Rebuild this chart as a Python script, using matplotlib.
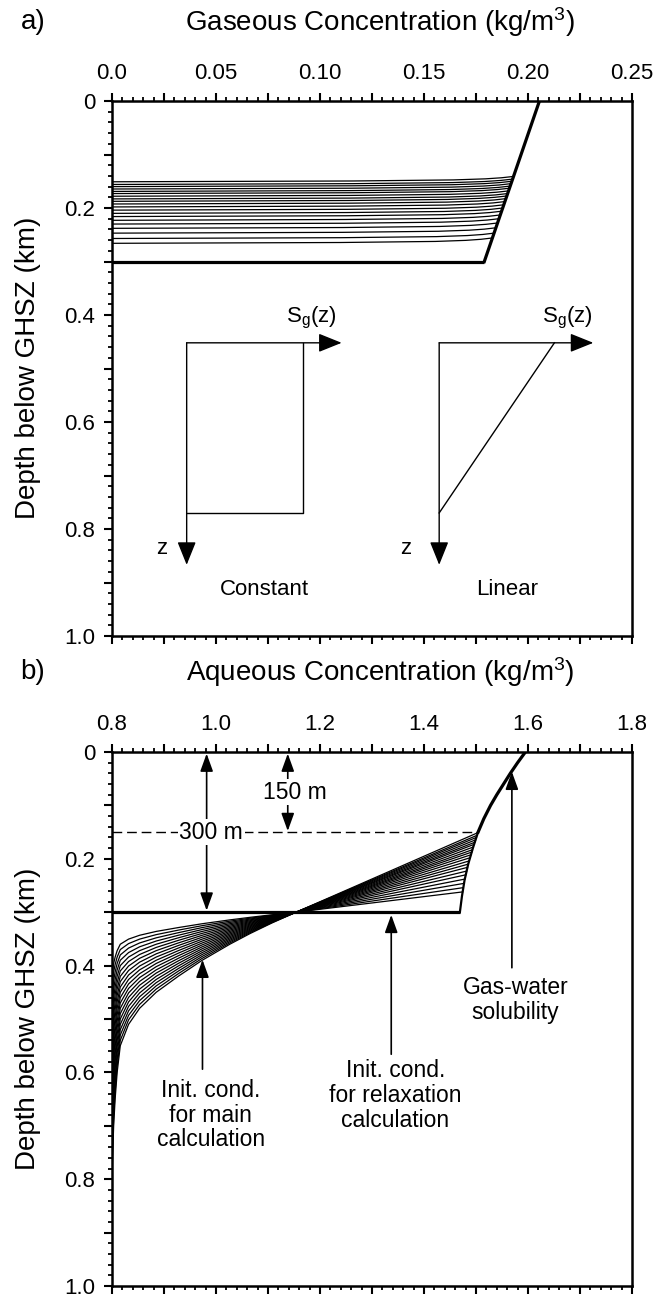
import numpy as np
import matplotlib
matplotlib.use("Agg")
import matplotlib.pyplot as plt
from matplotlib.ticker import MultipleLocator, FuncFormatter

plt.rcParams["font.family"] = ["Liberation Sans", "DejaVu Sans"]
plt.rcParams["mathtext.fontset"] = "custom"
plt.rcParams["mathtext.rm"] = "Liberation Sans"
plt.rcParams["mathtext.it"] = "Liberation Sans:italic"

# ---- panel a: gaseous concentration ----
gas_front_depths = [0.151, 0.156, 0.160, 0.1645, 0.169, 0.173, 0.178, 0.183,
                    0.1875, 0.1925, 0.198, 0.204, 0.210, 0.216, 0.223, 0.230,
                    0.238, 0.247, 0.257, 0.266]
gas_front_rise = 0.010
front_bend_u = [0.0, 0.6, 0.85, 0.93, 0.97, 1.0]
front_bend_v = [0.0, 0.15, 0.35, 0.55, 0.75, 1.0]
gas_sol_conc = [0.2055, 0.179]
gas_sol_depth = [0.0, 0.3]
gas_init_conc = [0.0, 0.179]
gas_init_depth = [0.3, 0.3]

# ---- panel b: aqueous concentration ----
aq_sol_depth = [0.0, 0.02, 0.04, 0.06, 0.08, 0.10, 0.125, 0.15, 0.18, 0.21,
                0.24, 0.27, 0.30]
aq_sol_conc = [1.595, 1.580, 1.566, 1.553, 1.540, 1.528, 1.515, 1.504, 1.494,
               1.485, 1.478, 1.473, 1.469]
aq_pivot = (1.154, 0.3)
aq_right_depths = [0.151, 0.156, 0.160, 0.1645, 0.169, 0.173, 0.178, 0.183,
                   0.1875, 0.1925, 0.198, 0.204, 0.210, 0.216, 0.223, 0.230,
                   0.238, 0.246, 0.254, 0.262]
aq_tail_extent = [0.50, 0.48, 0.46, 0.44, 0.42, 0.40, 0.38, 0.36, 0.34, 0.32,
                  0.30, 0.28, 0.26, 0.24, 0.22, 0.20, 0.18, 0.16, 0.14, 0.12]
tail_s = [0.0, 0.04, 0.08, 0.12, 0.18, 0.24, 0.30, 0.36, 0.42, 0.50, 0.60,
          0.70, 0.80, 0.90, 1.0]
tail_f = [0.0, 0.13, 0.25, 0.36, 0.51, 0.64, 0.76, 0.85, 0.91, 0.955, 0.972,
          0.983, 0.991, 0.996, 1.0]
aq_background = 0.8
aq_init_conc = [0.8, 1.469]
aq_init_depth = [0.3, 0.3]

W, H = 653, 1298
fig = plt.figure(figsize=(W / 100, H / 100), dpi=100)
ax_a = fig.add_axes([112 / W, 1 - 636 / H, 520 / W, 535 / H])
ax_b = fig.add_axes([112 / W, 1 - 1286 / H, 520 / W, 534 / H])


def style_axes(ax, xlim, xmajor, xminor, xlabel_step, xfmt):
    ax.set_xlim(*xlim)
    ax.set_ylim(1.0, 0.0)
    for sp in ax.spines.values():
        sp.set_linewidth(1.8)
    ax.xaxis.set_major_locator(MultipleLocator(xmajor))
    ax.xaxis.set_minor_locator(MultipleLocator(xminor))
    ax.yaxis.set_major_locator(MultipleLocator(0.1))
    ax.yaxis.set_minor_locator(MultipleLocator(0.02))

    def fx(v, pos):
        k = (v - xlim[0]) / xlabel_step
        if abs(k - round(k)) > 1e-6:
            return ""
        return xfmt(v)

    def fy(v, pos):
        k = v / 0.2
        if abs(k - round(k)) > 1e-6:
            return ""
        return "0" if abs(v) < 1e-9 else f"{v:.1f}"

    ax.xaxis.set_major_formatter(FuncFormatter(fx))
    ax.yaxis.set_major_formatter(FuncFormatter(fy))
    ax.tick_params(axis="x", which="both", top=True, bottom=True,
                   labeltop=True, labelbottom=False, direction="out")
    ax.tick_params(axis="y", which="both", left=True, right=False,
                   direction="out")
    ax.tick_params(which="major", length=6, width=1.5, labelsize=16, pad=6)
    ax.tick_params(which="minor", length=3, width=1.3)


style_axes(ax_a, (0.0, 0.25), 0.025, 0.005, 0.05,
           lambda v: "0.0" if abs(v) < 1e-9 else f"{v:.2f}")
style_axes(ax_b, (0.8, 1.8), 0.1, 0.02, 0.2, lambda v: f"{v:.1f}")

# ---- panel a curves ----
for d in gas_front_depths:
    z_end = d - gas_front_rise
    x_end = np.interp(z_end, gas_sol_depth, gas_sol_conc)
    xs = np.array(front_bend_u) * x_end
    zs = d - np.array(front_bend_v) * gas_front_rise
    ax_a.plot(xs, zs, color="k", lw=0.9, zorder=2)
ax_a.plot(gas_init_conc, gas_init_depth, color="k", lw=2.3, zorder=3,
          solid_capstyle="butt")
ax_a.plot(gas_sol_conc, gas_sol_depth, color="k", lw=2.3, zorder=3)


def arrow(ax, tail, tip, style="-|>", ms=20, hl=0.72, hw=0.29, lw=1.0):
    ax.annotate("", xy=tip, xytext=tail,
                arrowprops=dict(arrowstyle=f"{style},head_length={hl},head_width={hw}",
                                mutation_scale=ms, lw=lw, color="k",
                                shrinkA=0, shrinkB=0), zorder=4)


# inset sketches
top, bot, ztip = 0.452, 0.770, 0.867
# constant
x0, x1, xt = 0.0359, 0.0918, 0.1104
arrow(ax_a, (x0, top), (xt, top))
arrow(ax_a, (x0, top), (x0, ztip))
ax_a.plot([x1, x1, x0], [top, bot, bot], color="k", lw=1.0)
ax_a.text(0.0239, 0.836, "z", fontsize=16, ha="center", va="center")
ax_a.text(0.096, 0.406, r"S$_\mathrm{g}$(z)", fontsize=16, ha="center", va="center")
ax_a.text(0.0731, 0.914, "Constant", fontsize=16, ha="center", va="center")
# linear
x0, x1, xt = 0.1573, 0.2127, 0.2314
arrow(ax_a, (x0, top), (xt, top))
arrow(ax_a, (x0, top), (x0, ztip))
ax_a.plot([x1, x0], [top, bot], color="k", lw=1.0)
ax_a.text(0.141, 0.836, "z", fontsize=16, ha="center", va="center")
ax_a.text(0.219, 0.406, r"S$_\mathrm{g}$(z)", fontsize=16, ha="center", va="center")
ax_a.text(0.190, 0.914, "Linear", fontsize=16, ha="center", va="center")

# ---- panel b curves ----
for zr, ext in zip(aq_right_depths, aq_tail_extent):
    cr = np.interp(zr, aq_sol_depth, aq_sol_conc)
    tail_c = aq_pivot[0] - np.array(tail_f) * (aq_pivot[0] - aq_background)
    tail_z = aq_pivot[1] + np.array(tail_s) * ext
    cs = np.concatenate([[cr], tail_c])
    zs = np.concatenate([[zr], tail_z])
    ax_b.plot(cs, zs, color="k", lw=0.9, zorder=2)

sol = np.array(aq_sol_depth)
upper = sol <= 0.15
lower = sol >= 0.15
ax_b.plot(np.array(aq_sol_conc)[upper], sol[upper], color="k", lw=2.3, zorder=3)
ax_b.plot(np.array(aq_sol_conc)[lower], sol[lower], color="k", lw=1.6, zorder=3)
ax_b.plot(aq_init_conc, aq_init_depth, color="k", lw=2.3, zorder=3,
          solid_capstyle="butt")
ax_b.plot([0.8, 1.504], [0.15, 0.15], color="k", lw=1.0, ls=(0, (7, 3.5)),
          zorder=2)

bkw = dict(ms=15, hl=0.72, hw=0.26, lw=1.2)
arrow(ax_b, (0.982, 0.15), (0.982, 0.003), **bkw)
arrow(ax_b, (0.982, 0.15), (0.982, 0.297), **bkw)
arrow(ax_b, (1.138, 0.075), (1.138, 0.003), **bkw)
arrow(ax_b, (1.138, 0.075), (1.138, 0.148), **bkw)
arrow(ax_b, (1.337, 0.566), (1.337, 0.305), **bkw)
arrow(ax_b, (1.569, 0.404), (1.569, 0.037), **bkw)
arrow(ax_b, (0.974, 0.594), (0.974, 0.389), **bkw)

white = dict(facecolor="white", edgecolor="none", pad=1.0)
ax_b.text(0.991, 0.15, "300 m", fontsize=16.5, ha="center", va="center",
          bbox=white, zorder=5)
ax_b.text(1.152, 0.075, "150 m", fontsize=16.5, ha="center", va="center",
          bbox=white, zorder=5)
ax_b.text(0.99, 0.68, "Init. cond.\nfor main\ncalculation", fontsize=16.5,
          ha="center", va="center", linespacing=1.1)
ax_b.text(1.345, 0.643, "Init. cond.\nfor relaxation\ncalculation", fontsize=16.5,
          ha="center", va="center", linespacing=1.1)
ax_b.text(1.576, 0.4645, "Gas-water\nsolubility", fontsize=16.5,
          ha="center", va="center", linespacing=1.1)

# ---- titles ----
fig.text(380 / W, 1 - 22 / H, "Gaseous Concentration (kg/m$^3$)", fontsize=20,
         ha="center", va="center")
fig.text(380 / W, 1 - 672 / H, "Aqueous Concentration (kg/m$^3$)", fontsize=20,
         ha="center", va="center")
fig.text(33 / W, 1 - 22 / H, "a)", fontsize=20, ha="center", va="center")
fig.text(33 / W, 1 - 672 / H, "b)", fontsize=20, ha="center", va="center")
fig.text(28 / W, 1 - 368 / H, "Depth below GHSZ (km)", fontsize=20,
         rotation=90, ha="center", va="center")
fig.text(28 / W, 1 - 1019 / H, "Depth below GHSZ (km)", fontsize=20,
         rotation=90, ha="center", va="center")

fig.savefig("out.png", dpi=100)
